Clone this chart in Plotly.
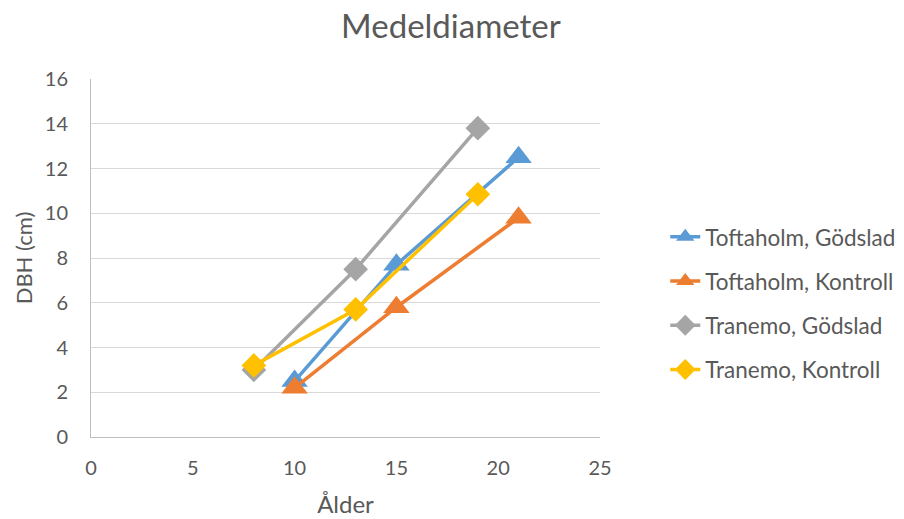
import plotly.graph_objects as go

age_toftaholm = [10, 15, 21]
age_tranemo = [8, 13, 19]
toftaholm_godslad = [2.5, 7.7, 12.5]
toftaholm_kontroll = [2.2, 5.8, 9.8]
tranemo_godslad = [3.0, 7.5, 13.8]
tranemo_kontroll = [3.2, 5.7, 10.85]

names = ["Toftaholm, Gödslad", "Toftaholm, Kontroll", "Tranemo, Gödslad", "Tranemo, Kontroll"]
colors = ["#5B9BD5", "#ED7D31", "#A5A5A5", "#FFC000"]

FONT = "Lato, Open Sans, sans-serif"
TXT = "#595959"
fig = go.Figure()
series = [
    (age_toftaholm, toftaholm_godslad, "triangle-up", 23),
    (age_toftaholm, toftaholm_kontroll, "triangle-up", 23),
    (age_tranemo, tranemo_godslad, "diamond", 19),
    (age_tranemo, tranemo_kontroll, "diamond", 19),
]
for i, (x, y, sym, sz) in enumerate(series):
    fig.add_trace(go.Scatter(
        x=x, y=y, mode="lines+markers", name=names[i], legendgroup=str(i),
        line=dict(color=colors[i], width=3.5),
        marker=dict(symbol=sym, size=sz, color=colors[i]),
    ))

fig.update_layout(
    width=904, height=519,
    paper_bgcolor="white", plot_bgcolor="white",
    margin=dict(l=83, r=311, t=71, b=90),
    title=dict(text="Medeldiameter", x=0.49, xanchor="center", y=0.964, yanchor="middle",
               font=dict(family=FONT, size=33, color=TXT)),
    font=dict(family=FONT, color=TXT),
    xaxis=dict(range=[0, 25], dtick=5, tick0=0, showgrid=False, zeroline=False,
               showline=True, linecolor="#BFBFBF", linewidth=1, ticks="",
               ticklabelstandoff=13,
               tickfont=dict(size=20, color=TXT),
               title=dict(text="Ålder", font=dict(size=24, color=TXT), standoff=18)),
    yaxis=dict(range=[0, 16], dtick=2, tick0=0, showgrid=True, gridcolor="#D9D9D9", gridwidth=1,
               zeroline=False,
               showline=True, linecolor="#BFBFBF", linewidth=1,
               ticks="", ticklabelstandoff=18,
               tickfont=dict(size=20, color=TXT),
               title=dict(text="DBH (cm)", font=dict(size=22, color=TXT), standoff=6)),
    legend=dict(x=1.126, y=0.374, xanchor="left", yanchor="middle",
                font=dict(size=22.5, color=TXT), tracegroupgap=12),
    showlegend=True,
)
fig.write_html("out.html", config={"displayModeBar": False})
